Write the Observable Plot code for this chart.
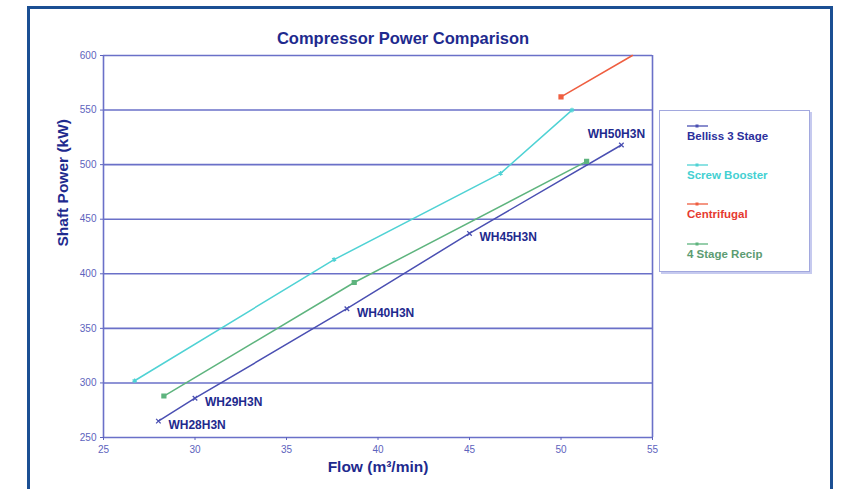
<!DOCTYPE html>
<html>
<head>
<meta charset="utf-8">
<script src="https://cdn.jsdelivr.net/npm/d3@7"></script>
<script src="https://cdn.jsdelivr.net/npm/@observablehq/plot@0.6"></script>
<style>
  html, body { margin: 0; padding: 0; background: #fff; overflow: hidden; }
  #wrap { position: relative; width: 845px; height: 489px; font-family: "Liberation Sans", Arial, sans-serif; }
  #frame { position: absolute; left: 27px; top: 6px; width: 800px; height: 600px; border: 3px solid #1b4f93; box-sizing: content-box; pointer-events: none; }
  #chart { position: absolute; left: 0; top: 0; }
  #legend { position: absolute; left: 659px; top: 110px; width: 151px; height: 162px; border: 1.5px solid #a2a8de; box-shadow: 2px 2px 0 #c6caef; background: #fff; box-sizing: border-box; }
  .item { position: absolute; left: 27px; font-weight: bold; font-size: 11.5px; white-space: nowrap; }
  .item svg { display: block; }
</style>
</head>
<body>
<div id="wrap">
  <div id="chart"></div>
  <div id="frame"></div>
  <div id="legend"></div>
</div>
<script>
// ---- data ----
const seriesNames = ["Belliss 3 Stage", "Screw Booster", "Centrifugal", "4 Stage Recip"];
const seriesColors = ["#4a4fb2", "#4fd2d4", "#ef5e40", "#5eb47e"];
const legendTextColors = ["#2b2f9c", "#44d0d2", "#e63a30", "#5c9c72"];
const seriesSymbols = ["times", "asterisk", "square", "square"];

const bellissFlow = [28.0, 30.0, 38.3, 45.0, 53.3];
const bellissPower = [265, 286, 368, 437, 518];
const bellissModels = ["WH28H3N", "WH29H3N", "WH40H3N", "WH45H3N", "WH50H3N"];

const screwFlow = [26.7, 37.6, 46.7, 50.6];
const screwPower = [302, 413, 492, 550];

const centrifugalFlow = [50.0, 53.9];
const centrifugalPower = [562, 600];

const recipFlow = [28.3, 38.7, 51.4];
const recipPower = [288, 392, 503];

const xTicks = [25, 30, 35, 40, 45, 50, 55];
const yTicks = [250, 300, 350, 400, 450, 500, 550, 600];

const titleText = "Compressor Power Comparison";
const xLabel = "Flow (m³/min)";
const yLabel = "Shaft Power (kW)";

// ---- build rows ----
const toRows = (name, xs, ys) => xs.map((x, i) => ({ series: name, flow: x, power: ys[i] }));
const rows = [
  ...toRows(seriesNames[0], bellissFlow, bellissPower),
  ...toRows(seriesNames[1], screwFlow, screwPower),
  ...toRows(seriesNames[2], centrifugalFlow, centrifugalPower),
  ...toRows(seriesNames[3], recipFlow, recipPower)
];
const markerRows = rows.filter(d => d.power < 600);
const labelRows = bellissModels.map((m, i) => ({ model: m, flow: bellissFlow[i], power: bellissPower[i] }));
const labelRowsStart = labelRows.slice(0, 4);
const labelRowsTop = labelRows.slice(4);

const colorScale = { domain: seriesNames, range: seriesColors };
const gridColor = "#6a70c8";
const tickColor = "#5d63bd";
const navy = "#1e2a8e";

const chart = Plot.plot({
  width: 845,
  height: 489,
  marginLeft: 103,
  marginRight: 193,
  marginTop: 55,
  marginBottom: 52,
  style: { fontFamily: "'Liberation Sans', Arial, sans-serif", background: "transparent" },
  x: { domain: [25, 55], ticks: xTicks },
  y: { domain: [250, 600], ticks: yTicks },
  color: colorScale,
  symbol: { domain: seriesNames, range: seriesSymbols },
  marks: [
    Plot.ruleY(yTicks, { stroke: gridColor, strokeWidth: 1.6 }),
    Plot.ruleX([25, 55], { stroke: gridColor, strokeWidth: 1.6 }),
    Plot.axisX({ ticks: xTicks, tickSize: 3, tickPadding: 5, fontSize: 10, stroke: tickColor, fill: tickColor, label: null }),
    Plot.axisY({ ticks: yTicks, tickSize: 3, tickPadding: 4, fontSize: 10, stroke: tickColor, fill: tickColor, label: null }),
    Plot.line(rows, { x: "flow", y: "power", z: "series", stroke: "series", strokeWidth: 1.5 }),
    Plot.dot(markerRows, { x: "flow", y: "power", symbol: "series", stroke: "series", fill: "series", r: 2.2, strokeWidth: 1.3 }),
    Plot.text(labelRowsStart, { x: "flow", y: "power", text: "model", textAnchor: "start", dx: 10, dy: 4, fontSize: 12, fontWeight: "bold", fill: navy }),
    Plot.text(labelRowsTop, { x: "flow", y: "power", text: "model", textAnchor: "middle", dx: -5, dy: -11, fontSize: 12, fontWeight: "bold", fill: navy }),
    Plot.text([titleText], { frameAnchor: "top", lineAnchor: "middle", dx: 25, dy: -16.5, fontSize: 16.5, fontWeight: "bold", fill: navy }),
    Plot.text([xLabel], { frameAnchor: "bottom", lineAnchor: "middle", dy: 29.5, fontSize: 15.5, fontWeight: "bold", fill: navy }),
    Plot.text([yLabel], { frameAnchor: "left", dx: -40, rotate: -90, fontSize: 15.5, fontWeight: "bold", fill: navy })
  ]
});
document.getElementById("chart").appendChild(chart);

// ---- legend ----
const legend = document.getElementById("legend");
const rowTops = [12, 51, 90, 130];
seriesNames.forEach((name, i) => {
  const item = document.createElement("div");
  item.className = "item";
  item.style.top = rowTops[i] + "px";
  item.style.color = legendTextColors[i];
  const ns = "http://www.w3.org/2000/svg";
  const svg = document.createElementNS(ns, "svg");
  svg.setAttribute("width", "24");
  svg.setAttribute("height", "6");
  const ln = document.createElementNS(ns, "line");
  ln.setAttribute("x1", "0"); ln.setAttribute("x2", "21");
  ln.setAttribute("y1", "3"); ln.setAttribute("y2", "3");
  ln.setAttribute("stroke", seriesColors[i]); ln.setAttribute("stroke-width", "1.3");
  svg.appendChild(ln);
  const mk = document.createElementNS(ns, "rect");
  mk.setAttribute("x", "8.5"); mk.setAttribute("y", "1.5");
  mk.setAttribute("width", "3"); mk.setAttribute("height", "3");
  mk.setAttribute("fill", seriesColors[i]);
  svg.appendChild(mk);
  item.appendChild(svg);
  const t = document.createElement("div");
  t.textContent = name;
  t.style.marginTop = "1px";
  item.appendChild(t);
  legend.appendChild(item);
});
</script>
</body>
</html>
